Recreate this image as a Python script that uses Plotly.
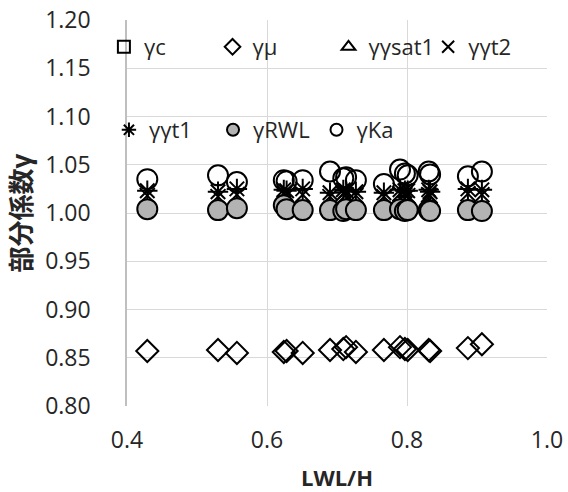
import plotly.graph_objects as go

# LWL/H values for each case
lwl_h = [0.429, 0.530, 0.557, 0.624, 0.628, 0.651, 0.690, 0.709, 0.713,
         0.727, 0.767, 0.790, 0.797, 0.801, 0.831, 0.833, 0.887, 0.907]

gamma_c = [1.003] * len(lwl_h)
gamma_mu = [0.857, 0.858, 0.855, 0.856, 0.857, 0.855, 0.858, 0.859, 0.861,
            0.856, 0.858, 0.861, 0.859, 0.858, 0.858, 0.857, 0.860, 0.864]
gamma_ysat1 = [1.006, 1.006, 1.007, 1.008, 1.007, 1.006, 1.007, 1.008, 1.007,
               1.006, 1.007, 1.008, 1.007, 1.006, 1.007, 1.006, 1.008, 1.007]
gamma_yt2 = [1.018, 1.017, 1.019, 1.020, 1.018, 1.019, 1.017, 1.020, 1.019,
             1.018, 1.017, 1.020, 1.019, 1.018, 1.019, 1.018, 1.020, 1.019]
gamma_yt1 = [1.023, 1.022, 1.025, 1.024, 1.023, 1.025, 1.021, 1.024, 1.023,
             1.022, 1.021, 1.024, 1.023, 1.023, 1.024, 1.022, 1.025, 1.024]
gamma_rwl = [1.004, 1.003, 1.005, 1.008, 1.004, 1.003, 1.003, 1.002, 1.004,
             1.003, 1.003, 1.004, 1.002, 1.003, 1.003, 1.002, 1.003, 1.002]
gamma_ka = [1.035, 1.039, 1.032, 1.034, 1.033, 1.034, 1.043, 1.036, 1.037,
            1.034, 1.030, 1.045, 1.041, 1.039, 1.043, 1.040, 1.038, 1.043]

series_names = ["γc", "γμ", "γγsat1", "γγt2", "γγt1", "γRWL", "γKa"]
series_values = [gamma_c, gamma_mu, gamma_ysat1, gamma_yt2, gamma_yt1,
                 gamma_rwl, gamma_ka]

symbols = ["square-open", "diamond-open", "triangle-up-open", "x-thin-open",
           "asterisk-open", "circle", "circle-open"]
sizes = [10, 17, 12, 15, 17, 20, 20]
# legend placement (paper x, paper y) for each entry
legend_pos = [(-0.055, 0.930), (0.2036, 0.930), (0.4798, 0.930), (0.717, 0.930),
              (-0.043, 0.715), (0.2048, 0.715), (0.4512, 0.715)]

fig = go.Figure()
layout_legends = {}
for i, (name, vals) in enumerate(zip(series_names, series_values)):
    lg = "legend" if i == 0 else f"legend{i + 1}"
    filled = symbols[i] == "circle"
    fig.add_trace(go.Scatter(
        x=lwl_h, y=vals, mode="markers", name=name, legend=lg, showlegend=True,
        marker=dict(symbol=symbols[i], size=sizes[i],
                    color="#b3b3b3" if filled else "black",
                    line=dict(color="black", width=2)),
    ))
    lx, ly = legend_pos[i]
    layout_legends[lg] = dict(
        x=lx, y=ly, xanchor="left", yanchor="middle",
        font=dict(size=22, color="#262626"), bgcolor="rgba(0,0,0,0)",
        itemsizing="constant")

font_family = "Open Sans, Noto Sans CJK JP, sans-serif"
fig.update_layout(
    width=568, height=492,
    margin=dict(l=127, r=21, t=20, b=86, autoexpand=False),
    showlegend=True,
    paper_bgcolor="white", plot_bgcolor="white",
    font=dict(family=font_family, size=23, color="#262626"),
    xaxis=dict(range=[0.4, 1.0], dtick=0.2, tickformat=".1f", automargin=False,
               showgrid=True, gridcolor="#d9d9d9", gridwidth=1,
               showline=False, zeroline=False, ticks="",
               ticklabelstandoff=18, ticklabeloverflow="allow",
               title=dict(text="<b>LWL/H</b>", font=dict(size=22), standoff=18)),
    yaxis=dict(range=[0.80, 1.20], dtick=0.05, tickformat=".2f", automargin=False,
               showgrid=True, gridcolor="#d9d9d9", gridwidth=1,
               showline=True, linecolor="#bfbfbf", linewidth=1.5,
               zeroline=False, ticks="", ticklabelstandoff=30,
               ticklabeloverflow="allow",
               title=dict(text="<b>部分係数γ</b>", font=dict(size=26), standoff=6)),
    **layout_legends,
)
# remove the browser's default page margin so the figure fills the window
fig.write_html("out.html", config={"displayModeBar": False},
               post_script="document.body.style.margin='0px';")
